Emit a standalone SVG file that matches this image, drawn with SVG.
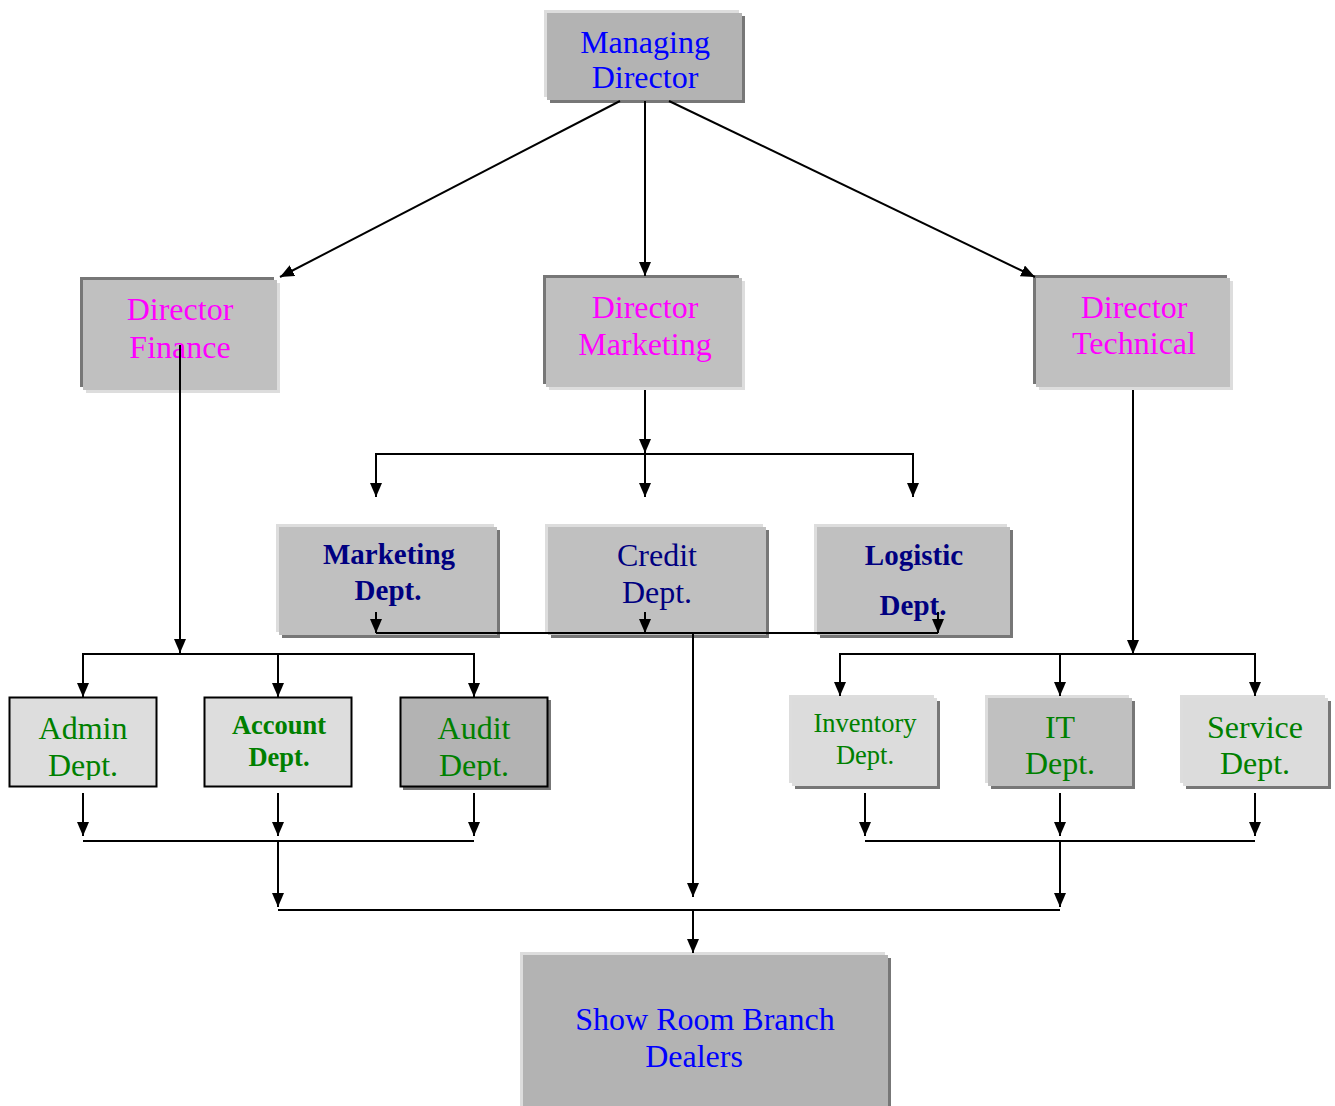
<svg xmlns="http://www.w3.org/2000/svg" width="1335" height="1106" viewBox="0 0 1335 1106">
<style>
text{font-family:"Liberation Serif","Times New Roman",serif;text-anchor:middle}
.t32{font-size:32px}
.b29{font-size:29px;font-weight:bold}
.blue{fill:#0000ff}
.mag{fill:#ff00ff}
.navy{fill:#000080}
.green{fill:#008000}
.lt{fill:#dddddd}
.dk{fill:#777777}
.g1{fill:#b3b3b3}
.g2{fill:#c0c0c0}
.g3{fill:#dcdcdc}
.ln{stroke:#000;stroke-width:2;fill:none}
.ar{stroke:#000;stroke-width:2;fill:none;marker-end:url(#ah)}
</style>
<defs>
<marker id="ah" markerUnits="userSpaceOnUse" markerWidth="14" markerHeight="12" refX="14" refY="6" orient="auto" viewBox="0 0 14 12">
<path d="M0,0 L14,6 L0,12 z" fill="#000"/>
</marker>
<clipPath id="cAdmin"><rect x="9" y="697" width="148" height="83"/></clipPath>
<clipPath id="cAudit"><rect x="400" y="697" width="148" height="83"/></clipPath>
</defs>
<rect width="1335" height="1106" fill="#ffffff"/>

<g id="managing-director">
<rect class="dk" x="550" y="16" width="195" height="87"/>
<rect class="lt" x="544" y="10" width="195" height="87"/>
<rect class="g1" x="547" y="13" width="195" height="87"/>
<text class="t32 blue" x="645" y="53">Managing</text>
<text class="t32 blue" x="645" y="88">Director</text>
</g>

<g id="director-finance">
<rect class="lt" x="86" y="283" width="194" height="110"/>
<rect class="dk" x="80" y="277" width="194" height="110"/>
<rect class="g2" x="83" y="280" width="194" height="110"/>
<text class="t32 mag" x="180" y="320">Director</text>
<text class="t32 mag" x="180" y="358">Finance</text>
</g>

<g id="director-marketing">
<rect class="lt" x="549" y="281" width="196" height="109"/>
<rect class="dk" x="543" y="275" width="196" height="109"/>
<rect class="g2" x="546" y="278" width="196" height="109"/>
<text class="t32 mag" x="645" y="318">Director</text>
<text class="t32 mag" x="645" y="355">Marketing</text>
</g>

<g id="director-technical">
<rect class="lt" x="1039" y="281" width="194" height="109"/>
<rect class="dk" x="1033" y="275" width="194" height="109"/>
<rect class="g2" x="1036" y="278" width="194" height="109"/>
<text class="t32 mag" x="1134" y="318">Director</text>
<text class="t32 mag" x="1134" y="354">Technical</text>
</g>

<g id="marketing-dept">
<rect class="dk" x="282" y="530" width="218" height="108"/>
<rect class="lt" x="276" y="524" width="218" height="108"/>
<rect class="g2" x="279" y="527" width="218" height="108"/>
<text class="b29 navy" x="389" y="564">Marketing</text>
<text class="b29 navy" x="388" y="600">Dept.</text>
</g>

<g id="credit-dept">
<rect class="dk" x="551" y="530" width="218" height="108"/>
<rect class="lt" x="545" y="524" width="218" height="108"/>
<rect class="g2" x="548" y="527" width="218" height="108"/>
<text class="t32 navy" x="657" y="566">Credit</text>
<text class="t32 navy" x="657" y="603">Dept.</text>
</g>

<g id="logistic-dept">
<rect class="dk" x="820" y="530" width="193" height="108"/>
<rect class="lt" x="814" y="524" width="193" height="108"/>
<rect class="g2" x="817" y="527" width="193" height="108"/>
<text class="b29 navy" x="914" y="565">Logistic</text>
<text class="b29 navy" x="913" y="615">Dept.</text>
</g>

<g id="admin-dept">
<rect x="9.5" y="697.5" width="147" height="89" fill="#dddddd" stroke="#000" stroke-width="2"/>
<g clip-path="url(#cAdmin)">
<text class="t32 green" x="83" y="739">Admin</text>
<text class="t32 green" x="83" y="776">Dept.</text>
</g>
</g>

<g id="account-dept">
<rect x="204.5" y="697.5" width="147" height="89" fill="#dddddd" stroke="#000" stroke-width="2"/>
<text class="green" style="font-size:26.5px;font-weight:bold" x="279" y="734">Account</text>
<text class="green" style="font-size:26.5px;font-weight:bold" x="279" y="766">Dept.</text>
</g>

<g id="audit-dept">
<rect class="dk" x="403" y="700" width="148" height="90"/>
<rect x="400.5" y="697.5" width="147" height="89" fill="#b3b3b3" stroke="#000" stroke-width="2"/>
<g clip-path="url(#cAudit)">
<text class="t32 green" x="474" y="739">Audit</text>
<text class="t32 green" x="474" y="776">Dept.</text>
</g>
</g>

<g id="inventory-dept">
<rect class="dk" x="795" y="701" width="145" height="88"/>
<rect class="lt" x="789" y="695" width="145" height="88"/>
<rect class="g3" x="792" y="698" width="145" height="88"/>
<text class="green" style="font-size:26.5px" x="865" y="732">Inventory</text>
<text class="green" style="font-size:26.5px" x="865" y="764">Dept.</text>
</g>

<g id="it-dept">
<rect class="dk" x="991" y="701" width="144" height="88"/>
<rect class="lt" x="985" y="695" width="144" height="88"/>
<rect class="g2" x="988" y="698" width="144" height="88"/>
<text class="t32 green" x="1060" y="738">IT</text>
<text class="t32 green" x="1060" y="774">Dept.</text>
</g>

<g id="service-dept">
<rect class="dk" x="1186" y="701" width="145" height="88"/>
<rect class="lt" x="1180" y="695" width="145" height="88"/>
<rect class="g3" x="1183" y="698" width="145" height="88"/>
<text class="t32 green" x="1255" y="738">Service</text>
<text class="t32 green" x="1255" y="774">Dept.</text>
</g>

<g id="show-room">
<rect class="dk" x="526" y="958" width="365" height="160"/>
<rect class="lt" x="520" y="952" width="365" height="160"/>
<rect class="g1" x="523" y="955" width="365" height="160"/>
<text class="t32 blue" x="705" y="1030">Show Room Branch</text>
<text class="t32 blue" x="694" y="1067">Dealers</text>
</g>

<g id="connectors">
<line class="ar" x1="620" y1="101" x2="280" y2="277"/>
<line class="ar" x1="645" y1="101" x2="645" y2="276"/>
<line class="ar" x1="669" y1="101" x2="1035" y2="277"/>

<line class="ar" x1="645" y1="390" x2="645" y2="453"/>
<line class="ln" x1="375" y1="454" x2="914" y2="454"/>
<line class="ar" x1="376" y1="454" x2="376" y2="497"/>
<line class="ar" x1="645" y1="454" x2="645" y2="497"/>
<line class="ar" x1="913" y1="454" x2="913" y2="497"/>

<line class="ar" x1="376" y1="612" x2="376" y2="633"/>
<line class="ar" x1="645" y1="612" x2="645" y2="633"/>
<line class="ar" x1="938" y1="612" x2="938" y2="633"/>
<line class="ln" x1="376" y1="633" x2="938" y2="633"/>
<line class="ar" x1="693" y1="633" x2="693" y2="897"/>

<line class="ar" x1="180" y1="345" x2="180" y2="653"/>
<line class="ln" x1="82" y1="654" x2="475" y2="654"/>
<line class="ar" x1="83" y1="654" x2="83" y2="697"/>
<line class="ar" x1="278" y1="654" x2="278" y2="697"/>
<line class="ar" x1="474" y1="654" x2="474" y2="697"/>

<line class="ar" x1="1133" y1="390" x2="1133" y2="654"/>
<line class="ln" x1="839" y1="654" x2="1256" y2="654"/>
<line class="ar" x1="840" y1="654" x2="840" y2="696"/>
<line class="ar" x1="1060" y1="654" x2="1060" y2="696"/>
<line class="ar" x1="1255" y1="654" x2="1255" y2="696"/>

<line class="ar" x1="83" y1="793" x2="83" y2="836"/>
<line class="ar" x1="278" y1="793" x2="278" y2="836"/>
<line class="ar" x1="474" y1="793" x2="474" y2="836"/>
<line class="ln" x1="83" y1="841" x2="474" y2="841"/>
<line class="ar" x1="278" y1="841" x2="278" y2="907"/>

<line class="ar" x1="865" y1="793" x2="865" y2="836"/>
<line class="ar" x1="1060" y1="793" x2="1060" y2="836"/>
<line class="ar" x1="1255" y1="793" x2="1255" y2="836"/>
<line class="ln" x1="865" y1="841" x2="1255" y2="841"/>
<line class="ar" x1="1060" y1="841" x2="1060" y2="907"/>

<line class="ln" x1="278" y1="910" x2="1060" y2="910"/>
<line class="ar" x1="693" y1="910" x2="693" y2="953"/>
</g>
</svg>
